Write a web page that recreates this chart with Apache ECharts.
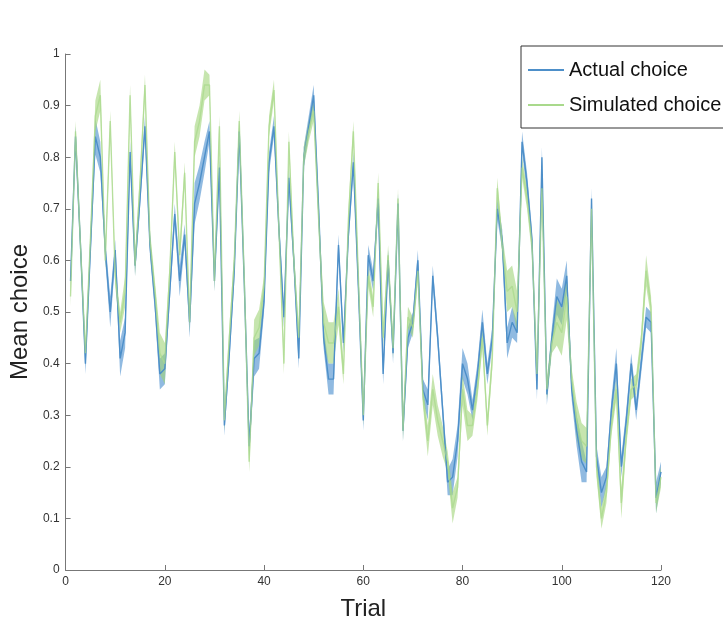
<!DOCTYPE html>
<html>
<head>
<meta charset="utf-8">
<script src="https://cdn.jsdelivr.net/npm/echarts@6/dist/echarts.min.js"></script>
<style>
  html, body { margin: 0; padding: 0; background: #fff; }
  #chart { width: 723px; height: 637px; }
</style>
</head>
<body>
<div id="chart"></div>
<script>
// trials 1..120
const trials = Array.from({ length: 120 }, (_, i) => i + 1)

const actual = [
  0.56, 0.84, 0.63, 0.40, 0.62, 0.84, 0.80, 0.62, 0.50, 0.62,
  0.41, 0.46, 0.81, 0.59, 0.72, 0.86, 0.63, 0.52, 0.38, 0.39,
  0.54, 0.69, 0.56, 0.65, 0.48, 0.71, 0.75, 0.80, 0.85, 0.56,
  0.78, 0.28, 0.42, 0.58, 0.85, 0.56, 0.24, 0.41, 0.42, 0.52,
  0.79, 0.86, 0.66, 0.49, 0.76, 0.60, 0.41, 0.80, 0.86, 0.92,
  0.70, 0.45, 0.37, 0.37, 0.63, 0.44, 0.65, 0.79, 0.55, 0.29,
  0.61, 0.56, 0.72, 0.38, 0.60, 0.42, 0.71, 0.27, 0.45, 0.48,
  0.60, 0.35, 0.32, 0.57, 0.45, 0.31, 0.17, 0.18, 0.25, 0.40,
  0.37, 0.31, 0.38, 0.48, 0.38, 0.45, 0.70, 0.64, 0.44, 0.48,
  0.46, 0.83, 0.75, 0.64, 0.35, 0.80, 0.34, 0.45, 0.53, 0.51,
  0.57, 0.35, 0.27, 0.21, 0.19, 0.72, 0.22, 0.15, 0.18, 0.31,
  0.40, 0.20, 0.29, 0.40, 0.31, 0.40, 0.49, 0.48, 0.14, 0.19
]
const actualErr = [
  0.02, 0.02, 0.02, 0.02, 0.02, 0.035, 0.03, 0.02, 0.03, 0.02,
  0.035, 0.03, 0.02, 0.02, 0.02, 0.02, 0.02, 0.02, 0.03, 0.03,
  0.02, 0.02, 0.03, 0.02, 0.03, 0.04, 0.035, 0.03, 0.02, 0.02,
  0.02, 0.02, 0.02, 0.02, 0.02, 0.02, 0.02, 0.035, 0.03, 0.02,
  0.02, 0.02, 0.02, 0.02, 0.02, 0.02, 0.02, 0.02, 0.02, 0.02,
  0.02, 0.02, 0.03, 0.03, 0.02, 0.02, 0.02, 0.02, 0.02, 0.02,
  0.02, 0.02, 0.02, 0.02, 0.02, 0.02, 0.02, 0.02, 0.02, 0.02,
  0.02, 0.02, 0.03, 0.02, 0.02, 0.02, 0.025, 0.035, 0.03, 0.03,
  0.03, 0.02, 0.02, 0.025, 0.02, 0.02, 0.02, 0.02, 0.03, 0.03,
  0.02, 0.02, 0.02, 0.02, 0.02, 0.02, 0.02, 0.02, 0.035, 0.035,
  0.03, 0.02, 0.03, 0.04, 0.02, 0.02, 0.02, 0.03, 0.02, 0.02,
  0.03, 0.02, 0.02, 0.02, 0.02, 0.02, 0.02, 0.02, 0.03, 0.02
]

const simulated = [
  0.53, 0.85, 0.63, 0.42, 0.64, 0.88, 0.92, 0.60, 0.87, 0.57,
  0.48, 0.54, 0.92, 0.59, 0.75, 0.94, 0.64, 0.54, 0.42, 0.40,
  0.58, 0.81, 0.61, 0.77, 0.48, 0.83, 0.87, 0.94, 0.94, 0.56,
  0.86, 0.29, 0.45, 0.60, 0.87, 0.57, 0.21, 0.45, 0.47, 0.55,
  0.86, 0.93, 0.66, 0.40, 0.83, 0.60, 0.45, 0.80, 0.85, 0.89,
  0.68, 0.48, 0.44, 0.44, 0.51, 0.38, 0.68, 0.85, 0.57, 0.30,
  0.57, 0.51, 0.75, 0.45, 0.61, 0.43, 0.72, 0.27, 0.49, 0.47,
  0.58, 0.34, 0.25, 0.35, 0.29, 0.25, 0.21, 0.12, 0.16, 0.35,
  0.28, 0.28, 0.35, 0.45, 0.28, 0.41, 0.74, 0.63, 0.54, 0.55,
  0.50, 0.78, 0.72, 0.63, 0.38, 0.74, 0.35, 0.44, 0.48, 0.46,
  0.53, 0.37, 0.29, 0.25, 0.24, 0.70, 0.20, 0.10, 0.15, 0.28,
  0.35, 0.13, 0.26, 0.35, 0.36, 0.44, 0.58, 0.51, 0.13, 0.18
]
const simulatedErr = [
  0.02, 0.02, 0.02, 0.02, 0.02, 0.03, 0.03, 0.02, 0.02, 0.02,
  0.02, 0.03, 0.02, 0.02, 0.02, 0.02, 0.02, 0.02, 0.04, 0.04,
  0.02, 0.02, 0.02, 0.02, 0.02, 0.03, 0.03, 0.03, 0.02, 0.02,
  0.02, 0.02, 0.02, 0.02, 0.02, 0.02, 0.02, 0.035, 0.035, 0.02,
  0.02, 0.02, 0.02, 0.02, 0.02, 0.02, 0.02, 0.02, 0.02, 0.02,
  0.02, 0.04, 0.04, 0.04, 0.035, 0.02, 0.02, 0.02, 0.02, 0.02,
  0.02, 0.02, 0.02, 0.02, 0.02, 0.02, 0.02, 0.02, 0.02, 0.02,
  0.02, 0.02, 0.03, 0.03, 0.03, 0.03, 0.02, 0.03, 0.02, 0.03,
  0.03, 0.02, 0.02, 0.02, 0.02, 0.02, 0.02, 0.02, 0.04, 0.04,
  0.04, 0.02, 0.02, 0.02, 0.02, 0.02, 0.02, 0.02, 0.045, 0.045,
  0.045, 0.02, 0.035, 0.035, 0.035, 0.02, 0.02, 0.02, 0.02, 0.02,
  0.02, 0.03, 0.02, 0.02, 0.02, 0.02, 0.03, 0.02, 0.02, 0.02
]

const xTicks = [0, 20, 40, 60, 80, 100, 120]

const font = '"Liberation Sans", Arial, Helvetica, sans-serif'
const blue = '#4d8fc9'
const green = '#a9d98c'

function pairs(vals) {
  return trials.map((t, i) => [t, vals[i]])
}

// shaded band: one polygon through (t, mean+err) forward and (t, mean-err) back
function band(id, mean, err, color) {
  const rows = trials.map((t, i) => [t, +(mean[i] - err[i]).toFixed(4), +(mean[i] + err[i]).toFixed(4)])
  return {
    name: id + '-band',
    type: 'custom',
    silent: true,
    data: rows,
    encode: { x: 0, y: [1, 2] },
    renderItem(params, api) {
      if (params.dataIndex !== 0) return null
      const top = rows.map(r => api.coord([r[0], r[2]]))
      const bottom = rows.map(r => api.coord([r[0], r[1]])).reverse()
      return {
        type: 'polygon',
        shape: { points: top.concat(bottom) },
        style: { fill: color }
      }
    }
  }
}

const chart = echarts.init(document.getElementById('chart'))
chart.setOption({
  animation: false,
  backgroundColor: '#fff',
  textStyle: { fontFamily: font },
  grid: { left: 61, right: 62, top: 54, bottom: 67 },
  legend: {
    data: ['Actual choice', 'Simulated choice'],
    orient: 'vertical',
    left: 521,
    top: 46,
    padding: [14, 8, 13, 7],
    itemGap: 15,
    itemWidth: 36,
    itemHeight: 2,
    icon: 'rect',
    backgroundColor: '#fff',
    borderColor: '#333',
    borderWidth: 1,
    borderRadius: 0,
    textStyle: { fontSize: 20, color: '#111', fontFamily: font }
  },
  xAxis: {
    type: 'value',
    min: xTicks[0],
    max: xTicks[xTicks.length - 1],
    interval: 20,
    name: 'Trial',
    nameLocation: 'middle',
    nameGap: 27,
    nameTextStyle: { fontSize: 24, color: '#222' },
    axisLine: { lineStyle: { color: '#777' } },
    axisTick: { inside: true, length: 5, lineStyle: { color: '#777' } },
    axisLabel: { fontSize: 12, color: '#333', margin: 6 },
    splitLine: { show: false }
  },
  yAxis: {
    type: 'value',
    min: 0,
    max: 1,
    interval: 0.1,
    name: 'Mean choice',
    nameLocation: 'middle',
    nameGap: 27,
    nameTextStyle: { fontSize: 24, color: '#222' },
    axisLine: { show: true, lineStyle: { color: '#777' } },
    axisTick: { show: true, inside: true, length: 5, lineStyle: { color: '#777' } },
    axisLabel: { fontSize: 12, color: '#333', margin: 6 },
    splitLine: { show: false }
  },
  series: [
    band('actual', actual, actualErr, 'rgba(70,140,205,0.6)'),
    band('simulated', simulated, simulatedErr, 'rgba(160,212,120,0.6)'),
    {
      name: 'Actual choice',
      type: 'line',
      data: pairs(actual),
      symbol: 'none',
      color: blue,
      lineStyle: { width: 1.4, color: blue }
    },
    {
      name: 'Simulated choice',
      type: 'line',
      data: pairs(simulated),
      symbol: 'none',
      color: green,
      lineStyle: { width: 1.4, color: green, opacity: 0.75 }
    }
  ]
})
</script>
</body>
</html>
